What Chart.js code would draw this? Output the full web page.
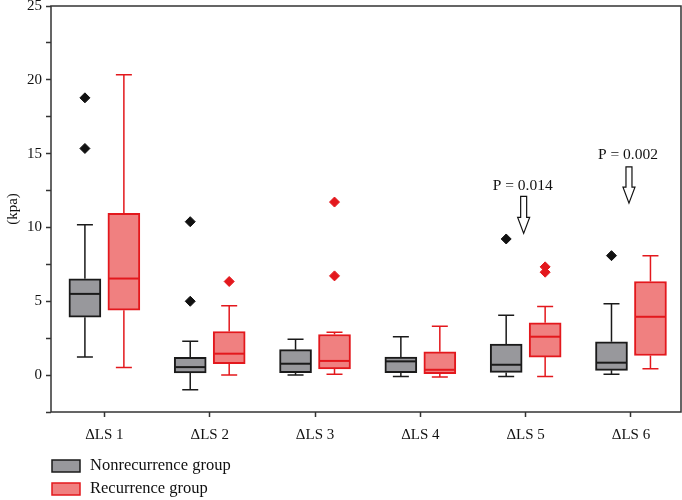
<!DOCTYPE html>
<html>
<head>
<meta charset="utf-8">
<script src="https://cdn.jsdelivr.net/npm/chart.js@4.4.0/dist/chart.umd.min.js"></script>
<style>
    html, body { margin: 0; padding: 0; background: #fff; }
    #wrap { width: 682px; height: 500px; position: relative; }
</style>
</head>
<body>
<div id="wrap"><canvas id="chart"></canvas></div>
<script>
// Box plot values (kpa)
const categories = ['ΔLS 1', 'ΔLS 2', 'ΔLS 3', 'ΔLS 4', 'ΔLS 5', 'ΔLS 6'];

const nonMin      = [1.22, -1.0, 0.0, -0.09, -0.09, 0.05];
const nonQ1       = [3.92, 0.15, 0.16, 0.16, 0.18, 0.32];
const nonMedian   = [5.50, 0.54, 0.77, 0.93, 0.70, 0.84];
const nonQ3       = [6.52, 1.21, 1.72, 1.22, 2.10, 2.26];
const nonMax      = [10.19, 2.30, 2.43, 2.60, 4.06, 4.83];
const nonOutliers = [[18.78, 15.35], [10.39, 5.0], [], [], [9.22], [8.09]];

const recMin      = [0.52, 0.0, 0.05, -0.13, -0.09, 0.43];
const recQ1       = [4.40, 0.77, 0.42, 0.09, 1.22, 1.33];
const recMedian   = [6.54, 1.45, 0.96, 0.36, 2.60, 3.95];
const recQ3       = [10.95, 2.95, 2.75, 1.58, 3.54, 6.34];
const recMax      = [20.35, 4.69, 2.91, 3.31, 4.64, 8.09];
const recOutliers = [[], [6.34], [11.72, 6.72], [], [7.33, 6.97], []];

const pLabels = ['P = 0.014', 'P = 0.002'];
const pCategory = [5, 6];
const pTextY = [12.8, 14.9];
const pArrowTop = [12.1, 14.1];
const pArrowBottom = [9.6, 11.65];

const yTicks = [-2.5, 25, 2.5]; // min, max, step

const FONT = 'Liberation Serif';
const SHIFT = 0.185;
const GRAY = '#98989c';
const GRAY_LINE = '#1a1a1a';
const RED = '#f08080';
const RED_LINE = '#e3181d';

const boxes = [
    { min: nonMin, q1: nonQ1, med: nonMedian, q3: nonQ3, max: nonMax, line: GRAY_LINE },
    { min: recMin, q1: recQ1, med: recMedian, q3: recQ3, max: recMax, line: RED_LINE }
];

function outlierPoints(list, dx) {
    const pts = [];
    list.forEach((vals, i) => vals.forEach(v => pts.push({ x: i + 1 + dx, y: v })));
    return pts;
}

const boxPlugin = {
    id: 'boxExtras',
    afterDatasetsDraw(chart) {
        const ctx = chart.ctx;
        const y = chart.scales.y;
        const x = chart.scales.x;
        const area = chart.chartArea;

        boxes.forEach((b, d) => {
            const meta = chart.getDatasetMeta(d);
            meta.data.forEach((bar, i) => {
                const cx = bar.x;
                const half = bar.width / 2;
                ctx.save();
                ctx.strokeStyle = b.line;
                ctx.lineWidth = 1.5;
                ctx.beginPath();
                // whiskers
                ctx.moveTo(cx, y.getPixelForValue(b.q3[i]));
                ctx.lineTo(cx, y.getPixelForValue(b.max[i]));
                ctx.moveTo(cx, y.getPixelForValue(b.q1[i]));
                ctx.lineTo(cx, y.getPixelForValue(b.min[i]));
                // caps
                ctx.moveTo(cx - 8, y.getPixelForValue(b.max[i]));
                ctx.lineTo(cx + 8, y.getPixelForValue(b.max[i]));
                ctx.moveTo(cx - 8, y.getPixelForValue(b.min[i]));
                ctx.lineTo(cx + 8, y.getPixelForValue(b.min[i]));
                ctx.stroke();
                // median
                ctx.lineWidth = 2;
                ctx.beginPath();
                ctx.moveTo(cx - half + 1, y.getPixelForValue(b.med[i]));
                ctx.lineTo(cx + half - 1, y.getPixelForValue(b.med[i]));
                ctx.stroke();
                ctx.restore();
            });
        });

        // frame
        ctx.save();
        ctx.strokeStyle = '#333';
        ctx.lineWidth = 1.5;
        ctx.strokeRect(area.left, area.top, area.right - area.left, area.bottom - area.top);
        ctx.restore();

        // P value annotations with hollow arrows
        pLabels.forEach((txt, k) => {
            const cx = x.getPixelForValue(pCategory[k]) - 2;
            const top = y.getPixelForValue(pArrowTop[k]);
            const bottom = y.getPixelForValue(pArrowBottom[k]);
            const headLen = 16;
            const neck = bottom - headLen;
            ctx.save();
            ctx.fillStyle = '#111';
            ctx.font = '15.5px "' + FONT + '"';
            ctx.textAlign = 'center';
            ctx.textBaseline = 'middle';
            ctx.fillText(txt, cx - 1, y.getPixelForValue(pTextY[k]));
            ctx.strokeStyle = '#111';
            ctx.lineWidth = 1.2;
            ctx.beginPath();
            ctx.moveTo(cx - 3, top);
            ctx.lineTo(cx + 3, top);
            ctx.lineTo(cx + 3, neck);
            ctx.lineTo(cx + 6, neck);
            ctx.lineTo(cx, bottom);
            ctx.lineTo(cx - 6, neck);
            ctx.lineTo(cx - 3, neck);
            ctx.closePath();
            ctx.stroke();
            ctx.restore();
        });
    },
    afterDraw(chart) {
        // legend stacked under the axis
        const ctx = chart.ctx;
        const rows = [466, 489];
        [0, 1].forEach((d, k) => {
            const ds = chart.data.datasets[d];
            ctx.save();
            ctx.fillStyle = ds.backgroundColor;
            ctx.strokeStyle = ds.borderColor;
            ctx.lineWidth = 1.5;
            ctx.fillRect(52, rows[k] - 6, 28, 12);
            ctx.strokeRect(52, rows[k] - 6, 28, 12);
            ctx.fillStyle = '#111';
            ctx.font = '16.5px "' + FONT + '"';
            ctx.textBaseline = 'middle';
            ctx.fillText(ds.label, 90, rows[k]);
            ctx.restore();
        });
    }
};

new Chart(document.getElementById('chart'), {
    type: 'bar',
    data: {
        datasets: [{
            label: 'Nonrecurrence group',
            data: categories.map((c, i) => ({ x: i + 1 - SHIFT, y: [nonQ1[i], nonQ3[i]] })),
            backgroundColor: GRAY,
            borderColor: GRAY_LINE,
            borderWidth: 2,
            borderSkipped: false,
            barThickness: 32,
            grouped: false
        }, {
            label: 'Recurrence group',
            data: categories.map((c, i) => ({ x: i + 1 + SHIFT, y: [recQ1[i], recQ3[i]] })),
            backgroundColor: RED,
            borderColor: RED_LINE,
            borderWidth: 2,
            borderSkipped: false,
            barThickness: 32,
            grouped: false
        }, {
            type: 'scatter',
            label: 'Nonrecurrence outliers',
            data: outlierPoints(nonOutliers, -SHIFT),
            pointStyle: 'rectRot',
            pointRadius: 5,
            backgroundColor: '#111',
            borderColor: '#111'
        }, {
            type: 'scatter',
            label: 'Recurrence outliers',
            data: outlierPoints(recOutliers, SHIFT),
            pointStyle: 'rectRot',
            pointRadius: 5,
            backgroundColor: RED_LINE,
            borderColor: RED_LINE
        }]
    },
    options: {
        responsive: true,
        maintainAspectRatio: false,
        animation: false,
        layout: { autoPadding: false, padding: { left: 0, right: 1, top: 6, bottom: 55 } },
        plugins: {
            legend: { display: false },
            tooltip: { enabled: false }
        },
        scales: {
            x: {
                type: 'linear',
                min: 0.493,
                max: 6.475,
                offset: false,
                afterBuildTicks: s => { s.ticks = categories.map((c, i) => ({ value: i + 1 })); },
                afterFit: s => {
                    s.height = 33;
                    s.paddingLeft = 0;
                    s.paddingRight = 0;
                },
                ticks: {
                    callback: v => categories[Math.round(v) - 1],
                    font: { family: FONT, size: 15 },
                    color: '#111',
                    padding: 9,
                    autoSkip: false,
                    maxRotation: 0
                },
                grid: { drawOnChartArea: false, offset: false, tickLength: 5, tickWidth: 1.5, color: '#333' },
                border: { display: false }
            },
            y: {
                min: yTicks[0],
                max: yTicks[1],
                afterFit: s => {
                    s.width = 51;
                    s.paddingTop = 0;
                    s.paddingBottom = 0;
                },
                ticks: {
                    stepSize: yTicks[2],
                    callback: v => (v >= 0 && v % 5 === 0) ? v : '',
                    font: { family: FONT, size: 15 },
                    color: '#111',
                    padding: 4
                },
                grid: { drawOnChartArea: false, tickLength: 5, tickWidth: 1.5, color: '#333' },
                border: { display: false },
                title: {
                    display: true,
                    text: '(kpa)',
                    font: { family: FONT, size: 15 },
                    color: '#111',
                    padding: { top: 4, bottom: 0 }
                }
            }
        }
    },
    plugins: [boxPlugin]
});
</script>
</body>
</html>
